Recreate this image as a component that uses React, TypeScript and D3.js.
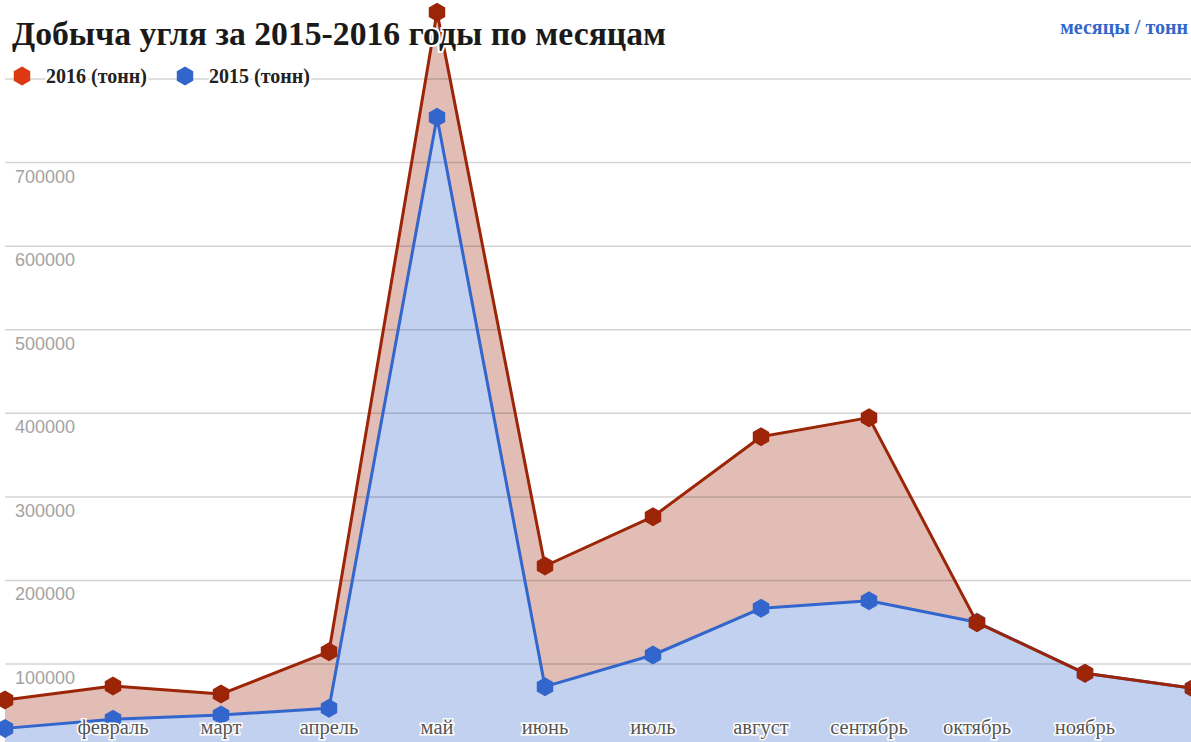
import React, { useEffect, useRef } from "react";
import * as d3 from "d3";

const months = [
  "январь", "февраль", "март", "апрель", "май", "июнь",
  "июль", "август", "сентябрь", "октябрь", "ноябрь", "декабрь",
];
const values2016 = [57000, 73700, 64100, 114800, 880000, 217300, 276300, 372000, 394800, 149500, 88900, 71000];
const values2015 = [23000, 33900, 39000, 47000, 754200, 72900, 110800, 166700, 175800, 150000, 88900, 71000];
const yTicks = [0, 100000, 200000, 300000, 400000, 500000, 600000, 700000, 800000];
const yLabelTicks = [100000, 200000, 300000, 400000, 500000, 600000, 700000];
const legendItems = ["2016 (тонн)", "2015 (тонн)"];

const W = 1191;
const H = 742;
const SERIF = "'Liberation Serif', 'Times New Roman', serif";
const SANS = "'Liberation Sans', Arial, sans-serif";

const hexPath = (cx: number, cy: number, r: number) => {
  const pts = d3.range(6).map((i) => {
    const a = (Math.PI / 3) * i - Math.PI / 2;
    return [cx + r * Math.cos(a), cy + r * Math.sin(a)];
  });
  return "M" + pts.map((p) => p.join(",")).join("L") + "Z";
};

const App: React.FC = () => {
  const ref = useRef<SVGSVGElement | null>(null);

  useEffect(() => {
    if (!ref.current) return;
    const svg = d3.select(ref.current);
    svg.selectAll("*").remove();

    const x = d3.scalePoint<string>().domain(months).range([5, 1193]);
    const y = d3.scaleLinear().domain([0, 800000]).range([747.6, 79]);

    const redLine = "#9c2507";
    const blue = "#3366cc";

    const root = svg.append("g").attr("clip-path", "url(#clip)");
    svg.append("defs").append("clipPath").attr("id", "clip")
      .append("rect").attr("width", W).attr("height", H);

    const area = d3.area<number>()
      .x((_, i) => x(months[i]) as number)
      .y0(y(0))
      .y1((d) => y(d));
    const line = d3.line<number>()
      .x((_, i) => x(months[i]) as number)
      .y((d) => y(d));

    root.append("path").attr("d", area(values2016)).attr("fill", "#e1bdb5");
    root.append("path").attr("d", area(values2015)).attr("fill", "#c2d1f0");

    // gridlines
    root.selectAll("line.grid")
      .data(yTicks)
      .enter()
      .append("line")
      .attr("x1", 5)
      .attr("x2", W)
      .attr("y1", (d) => y(d))
      .attr("y2", (d) => y(d))
      .attr("stroke", "#000")
      .attr("stroke-opacity", 0.17)
      .attr("stroke-width", 1.5);

    root.selectAll("text.ylab")
      .data(yLabelTicks)
      .enter()
      .append("text")
      .attr("x", 15)
      .attr("y", (d) => y(d) + 20)
      .attr("font-family", SANS)
      .attr("font-size", 18)
      .attr("fill", "#a3a3a3")
      .text((d) => String(d));

    // series
    const drawSeries = (vals: number[], color: string) => {
      root.append("path").attr("d", line(vals)).attr("fill", "none")
        .attr("stroke", color).attr("stroke-width", 3).attr("stroke-linejoin", "round");
      root.selectAll(null)
        .data(vals)
        .enter()
        .append("path")
        .attr("d", (d, i) => hexPath(x(months[i]) as number, y(d), 9.5))
        .attr("fill", color);
    };
    drawSeries(values2015, blue);
    drawSeries(values2016, redLine);

    // x labels
    const xl = root.selectAll("text.xlab")
      .data(months)
      .enter()
      .append("text")
      .attr("x", (d) => x(d) as number)
      .attr("y", 734)
      .attr("text-anchor", "middle")
      .attr("font-family", SERIF)
      .attr("font-size", 20.5)
      .attr("fill", "#555")
      .attr("stroke", "#fff")
      .attr("stroke-width", 3)
      .attr("paint-order", "stroke")
      .text((d) => d);
    xl.each(function (d) {
      const w = (this as SVGTextElement).getComputedTextLength();
      const cx = x(d) as number;
      if (cx - w / 2 < 0 || cx + w / 2 > W) d3.select(this).remove();
    });

    // title
    svg.append("text")
      .attr("x", 12)
      .attr("y", 45)
      .attr("font-family", SERIF)
      .attr("font-weight", "bold")
      .attr("font-size", 33.7)
      .attr("fill", "#1a1a1a")
      .attr("stroke", "#fff")
      .attr("stroke-width", 4)
      .attr("paint-order", "stroke")
      .text("Добыча угля за 2015-2016 годы по месяцам");

    svg.append("text")
      .attr("x", 1188)
      .attr("y", 34)
      .attr("text-anchor", "end")
      .attr("font-family", SERIF)
      .attr("font-weight", "bold")
      .attr("font-size", 20)
      .attr("fill", blue)
      .text("месяцы / тонн");

    // legend
    const legendColors = ["#dc3912", blue];
    const legendX = [22, 185];
    legendItems.forEach((label, i) => {
      svg.append("path").attr("d", hexPath(legendX[i], 76, 9.5)).attr("fill", legendColors[i]);
      svg.append("text")
        .attr("x", legendX[i] + 24)
        .attr("y", 83)
        .attr("font-family", SERIF)
        .attr("font-weight", "bold")
        .attr("font-size", 20)
        .attr("fill", "#222")
        .attr("stroke", "#fff")
        .attr("stroke-width", 4)
        .attr("paint-order", "stroke")
        .text(label);
    });
  }, []);

  return (
    <svg
      ref={ref}
      width={W}
      height={H}
      style={{ position: "absolute", left: 0, top: 0, display: "block", background: "#fff" }}
    />
  );
};

export default App;
